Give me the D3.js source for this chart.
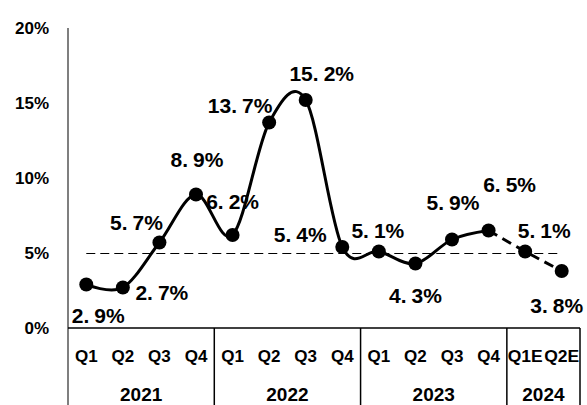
<!DOCTYPE html>
<html>
<head>
<meta charset="utf-8">
<script src="https://cdn.jsdelivr.net/npm/d3@7"></script>
<style>
  body { margin: 0; background: #fff; }
  svg { display: block; }
</style>
</head>
<body>
<div class="vis-area"></div>
<script>
var width = 587;
var height = 405;

// data
var quarters = ['Q1', 'Q2', 'Q3', 'Q4', 'Q1', 'Q2', 'Q3', 'Q4', 'Q1', 'Q2', 'Q3', 'Q4', 'Q1E', 'Q2E'];
var years = ['2021', '2022', '2023', '2024'];
var yearSpan = [4, 4, 4, 2];
var growth = [2.9, 2.7, 5.7, 8.9, 6.2, 13.7, 15.2, 5.4, 5.1, 4.3, 5.9, 6.5, 5.1, 3.8];
var actualCount = 12;   // last two are estimates (dashed)
var refLine = 5;
var yTicks = [0, 5, 10, 15, 20];

// label offsets from each point (layout only)
var labelOffsets = [
  [12, 31], [39, 5], [-23, -20], [1, -35], [0, -34], [-29, -17], [16, -27],
  [-42, -13], [-1, -21], [0, 32], [1, -37], [21, -46], [19, -21], [-5, 34]
];

var margin = {left: 68, right: 7, top: 28, bottom: 77};
var font = 'Liberation Sans, Arial, sans-serif';

var svg = d3.select('.vis-area')
  .append('svg')
  .attr('width', width)
  .attr('height', height);

var x = d3.scaleBand()
  .domain(d3.range(quarters.length))
  .range([margin.left, width - margin.right]);

var y = d3.scaleLinear()
  .domain([0, 20])
  .range([height - margin.bottom, margin.top]);

var cx = i => x(i) + x.bandwidth() / 2;

// y axis labels
svg.selectAll('.ytick')
  .data(yTicks)
  .enter()
  .append('text')
  .attr('class', 'ytick')
  .attr('x', 49)
  .attr('y', d => y(d))
  .attr('dy', '0.36em')
  .attr('text-anchor', 'end')
  .style('font-family', font)
  .style('font-weight', 'bold')
  .style('font-size', '17px')
  .text(d => d + '%');

// y axis line
svg.append('line')
  .attr('x1', margin.left).attr('x2', margin.left)
  .attr('y1', y(20)).attr('y2', height)
  .attr('stroke', '#555')
  .attr('stroke-width', 1.5);

// x axis line
svg.append('line')
  .attr('x1', margin.left).attr('x2', width - margin.right)
  .attr('y1', y(0)).attr('y2', y(0))
  .attr('stroke', '#000')
  .attr('stroke-width', 1.5);

// group separators
var bounds = [0];
yearSpan.forEach(s => bounds.push(bounds[bounds.length - 1] + s));
var edge = d => d < quarters.length ? x(d) : x(d - 1) + x.bandwidth();
svg.selectAll('.sep')
  .data(bounds.slice(1))
  .enter()
  .append('line')
  .attr('class', 'sep')
  .attr('x1', edge)
  .attr('x2', edge)
  .attr('y1', y(0)).attr('y2', height)
  .attr('stroke', '#000')
  .attr('stroke-width', 1.5);

// quarter labels
svg.selectAll('.qlabel')
  .data(quarters)
  .enter()
  .append('text')
  .attr('class', 'qlabel')
  .attr('x', (d, i) => cx(i))
  .attr('y', 362)
  .attr('text-anchor', 'middle')
  .style('font-family', font)
  .style('font-weight', 'bold')
  .style('font-size', '17px')
  .attr('textLength', d => d.length > 2 ? 35 : null)
  .attr('lengthAdjust', 'spacingAndGlyphs')
  .text(d => d);

// year labels
svg.selectAll('.ylabel')
  .data(years)
  .enter()
  .append('text')
  .attr('class', 'ylabel')
  .attr('x', (d, i) => (edge(bounds[i]) + edge(bounds[i + 1])) / 2)
  .attr('y', 401)
  .attr('text-anchor', 'middle')
  .style('font-family', font)
  .style('font-weight', 'bold')
  .style('font-size', '19px')
  .text(d => d);

// 5% reference line
svg.append('line')
  .attr('x1', cx(0)).attr('x2', cx(quarters.length - 1))
  .attr('y1', Math.round(y(refLine)) + 0.5).attr('y2', Math.round(y(refLine)) + 0.5)
  .attr('stroke', '#000')
  .attr('stroke-width', 1)
  .attr('stroke-dasharray', '9,5');

var line = d3.line()
  .x(d => cx(d.i))
  .y(d => y(d.v))
  .curve(d3.curveCatmullRom.alpha(0));

var pts = growth.map((v, i) => ({i: i, v: v}));

svg.append('path')
  .datum(pts.slice(0, actualCount))
  .attr('d', line)
  .attr('fill', 'none')
  .attr('stroke', '#000')
  .attr('stroke-width', 3);

svg.append('path')
  .datum(pts.slice(actualCount - 1))
  .attr('d', line)
  .attr('fill', 'none')
  .attr('stroke', '#000')
  .attr('stroke-width', 3)
  .attr('stroke-dasharray', '10,6');

svg.selectAll('.dot')
  .data(pts)
  .enter()
  .append('circle')
  .attr('class', 'dot')
  .attr('cx', d => cx(d.i))
  .attr('cy', d => y(d.v))
  .attr('r', 7)
  .attr('fill', '#000');

// value labels: wide gap after the decimal point like the original font
var labels = svg.selectAll('.val')
  .data(pts)
  .enter()
  .append('text')
  .attr('class', 'val')
  .attr('x', d => cx(d.i) + labelOffsets[d.i][0])
  .attr('y', d => y(d.v) + labelOffsets[d.i][1])
  .attr('dy', '0.36em')
  .attr('text-anchor', 'middle')
  .style('font-family', font)
  .style('font-weight', 'bold')
  .style('font-size', '21px');

labels.append('tspan')
  .text(d => d.v.toFixed(1).split('.')[0] + '.');
labels.append('tspan')
  .attr('dx', 5)
  .text(d => d.v.toFixed(1).split('.')[1] + '%');
</script>
</body>
</html>
